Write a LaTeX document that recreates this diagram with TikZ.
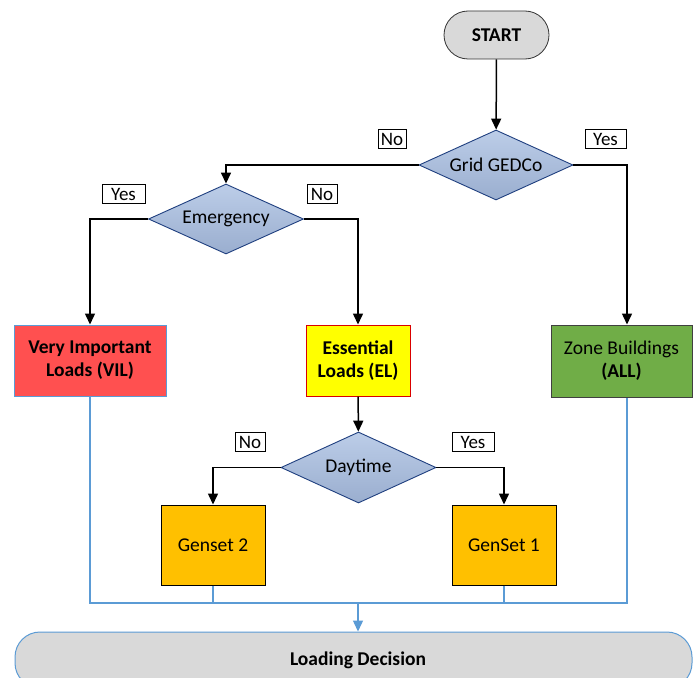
\documentclass[tikz,border=0pt]{standalone}
\usepackage{fontspec}
\setmainfont{Carlito}
\usetikzlibrary{shapes.geometric,arrows.meta}
\definecolor{termgrey}{HTML}{D9D9D9}
\definecolor{linkblue}{HTML}{5B9BD5}
\definecolor{diatop}{HTML}{BCCDE8}
\definecolor{diabot}{HTML}{9AAECF}
\definecolor{diaedge}{HTML}{1F3F7F}
\definecolor{vilred}{HTML}{FF5050}
\definecolor{elyellow}{HTML}{FFFF00}
\definecolor{zonegreen}{HTML}{70AD47}
\definecolor{genorange}{HTML}{FFC000}
\tikzset{
  txt/.style={font=\fontsize{19.5}{23}\selectfont, align=center},
  terminal/.style={txt, draw=black!80, fill=termgrey, line width=0.8pt, rounded corners=24pt, inner sep=0pt},
  decision/.style={txt, diamond, aspect=2.2, draw=diaedge, line width=0.9pt, top color=diatop, bottom color=diabot, inner sep=0pt},
  loadbox/.style={txt, rectangle, line width=1pt, inner sep=0pt},
  answer/.style={font=\fontsize{19}{21}\selectfont, draw=black, fill=white, line width=0.9pt, inner sep=0pt, minimum height=19.5pt},
  arr/.style={draw=black, line width=1.5pt, -{Triangle[width=10pt,length=11pt]}},
  bus/.style={draw=linkblue, line width=1.4pt},
  busarr/.style={bus, -{Triangle[width=10pt,length=11pt]}}
}
\begin{document}
\begin{tikzpicture}[x=1pt, y=-1pt]
  \fill[white] (0,0) rectangle (693,677);
  \useasboundingbox (0,0) rectangle (693,677);
  \clip (0,0) rectangle (693,677);

  % start and decisions
  \node[terminal, minimum width=105pt, minimum height=48pt] (start) at (496.5,35) {\textbf{START}};
  \node[decision, minimum width=154pt, minimum height=70pt] (grid) at (496,165) {Grid GEDCo};
  \node[decision, minimum width=155pt, minimum height=70pt] (emerg) at (226,219) {Emergency};
  \node[decision, minimum width=155pt, minimum height=71pt] (day) at (358.5,467.5) {Daytime};

  % load classes
  \node[loadbox, draw=linkblue, fill=vilred, minimum width=152pt, minimum height=71pt] (vil) at (90,360.5) {\textbf{Very Important}\\\textbf{Loads (VIL)}};
  \node[loadbox, draw=red!85!black, fill=elyellow, minimum width=104pt, minimum height=71pt] (el) at (358,360.5) {\textbf{Essential}\\\textbf{Loads (EL)}};
  \node[loadbox, draw=black!75, fill=zonegreen, minimum width=141pt, minimum height=72pt] (zone) at (621.5,361) {Zone Buildings\\\textbf{(ALL)}};

  % generator sets
  \node[loadbox, draw=black, fill=genorange, minimum width=104pt, minimum height=80pt] (gs2) at (213,545) {Genset 2};
  \node[loadbox, draw=black, fill=genorange, minimum width=104pt, minimum height=80pt] (gs1) at (504,545) {GenSet 1};

  % final terminal
  \node[terminal, draw=linkblue, line width=1pt, rounded corners=25pt, minimum width=677pt, minimum height=56pt] (load) at (353.5,660) {\hspace*{9pt}\textbf{Loading Decision}};

  % answer tags
  \node[answer, minimum width=28pt] (gno) at (392,139) {No};
  \node[answer, minimum width=41pt] (gyes) at (605.5,139) {Yes};
  \node[answer, minimum width=43pt] (eyes) at (123.5,194) {Yes};
  \node[answer, minimum width=30pt] (eno) at (322,194) {No};
  \node[answer, minimum width=30pt] (dno) at (250,442) {No};
  \node[answer, minimum width=42pt] (dyes) at (473,442) {Yes};

  % decision flow
  \draw[arr] (start) -- (grid);
  \draw[arr] (grid.west) -| (emerg.north);
  \draw[arr] (grid.east) -| ([xshift=5.5pt]zone.north);
  \draw[arr] (emerg.west) -| (vil.north);
  \draw[arr] (emerg.east) -| (el.north);
  \draw[arr] (el) -- (day);
  \draw[arr] (day.west) -| (gs2.north);
  \draw[arr] (day.east) -| (gs1.north);

  % collecting bus into the loading decision
  \coordinate (join) at (358,603);
  \draw[bus] (vil.south) |- (join) -| ([xshift=5.5pt]zone.south);
  \draw[bus] (gs2.south) |- (join);
  \draw[bus] (gs1.south) |- (join);
  \draw[busarr] (join) -- (join |- load.north);
\end{tikzpicture}
\end{document}
